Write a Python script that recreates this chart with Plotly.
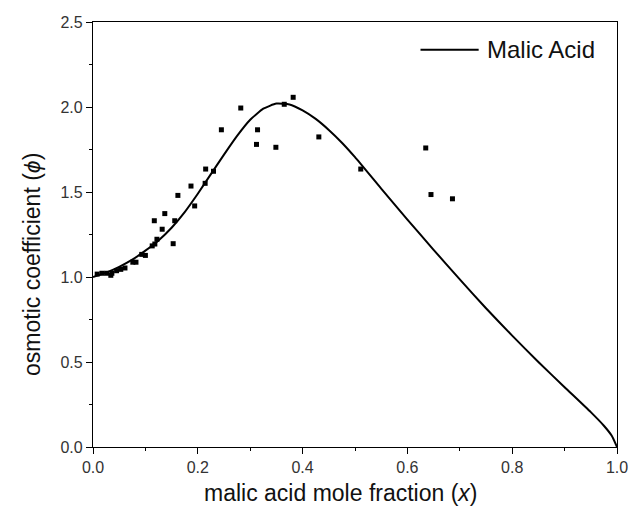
import plotly.graph_objects as go

# experimental points (mole fraction x, osmotic coefficient phi)
exp_x = [0.008, 0.017, 0.026, 0.034, 0.036, 0.045, 0.053, 0.061, 0.076, 0.082,
         0.093, 0.100, 0.113, 0.118, 0.122, 0.117, 0.132, 0.137, 0.153, 0.156,
         0.162, 0.187, 0.194, 0.214, 0.215, 0.230, 0.245, 0.282, 0.312, 0.314,
         0.349, 0.365, 0.382, 0.431, 0.511, 0.635, 0.645, 0.686]
exp_y = [1.017, 1.022, 1.022, 1.010, 1.022, 1.037, 1.045, 1.053, 1.087, 1.087,
         1.133, 1.127, 1.183, 1.194, 1.222, 1.331, 1.281, 1.373, 1.196, 1.331,
         1.480, 1.535, 1.418, 1.551, 1.635, 1.622, 1.866, 1.994, 1.780, 1.866,
         1.763, 2.016, 2.057, 1.824, 1.635, 1.759, 1.485, 1.460]

# model curve
fit_x = [0.0, 0.025, 0.05, 0.075, 0.10, 0.125, 0.15, 0.175, 0.20, 0.225,
         0.25, 0.275, 0.30, 0.325, 0.35, 0.375, 0.40, 0.425, 0.45, 0.475,
         0.50, 0.55, 0.60, 0.65, 0.70, 0.75, 0.80, 0.85, 0.90, 0.95, 0.975,
         0.99, 1.0]
fit_y = [1.000, 1.026, 1.060, 1.102, 1.155, 1.215, 1.290, 1.382, 1.490, 1.605,
         1.720, 1.830, 1.925, 1.990, 2.020, 2.015, 1.980, 1.930, 1.865, 1.790,
         1.705, 1.520, 1.338, 1.160, 0.986, 0.816, 0.655, 0.500, 0.352, 0.205,
         0.125, 0.066, 0.0]

legend_label = "Malic Acid"
x_title = "malic acid mole fraction (<i>x</i>)"
y_title = "osmotic coefficient (<i>ϕ</i>)"

fig = go.Figure()
fig.add_trace(go.Scatter(x=exp_x, y=exp_y, mode="markers",
                         marker=dict(symbol="square", size=5, color="black"),
                         showlegend=False))
fig.add_trace(go.Scatter(x=fit_x, y=fit_y, mode="lines", name=legend_label,
                         line=dict(color="black", width=2, shape="spline", smoothing=0.5),
                         showlegend=False))

axis_common = dict(showline=True, linecolor="black", linewidth=1.2, mirror=True,
                   ticks="outside", ticklen=6, tickcolor="black", showgrid=False,
                   zeroline=False, automargin=False,
                   tickfont=dict(size=16, color="#333"))
fig.update_xaxes(range=[0, 1], dtick=0.2, tickformat=".1f",
                 minor=dict(dtick=0.1, ticks="outside", ticklen=3, tickcolor="black"),
                 **axis_common)
fig.update_yaxes(range=[0, 2.5], dtick=0.5, tickformat=".1f",
                 minor=dict(dtick=0.25, ticks="outside", ticklen=3, tickcolor="black"),
                 **axis_common)

# axis titles
fig.add_annotation(text=x_title, xref="paper", yref="paper", x=0.473, y=-0.108,
                   xanchor="center", yanchor="middle", showarrow=False,
                   font=dict(size=23, color="#111"))
fig.add_annotation(text=y_title, xref="paper", yref="paper", x=-0.115, y=0.43,
                   xanchor="center", yanchor="middle", textangle=-90, showarrow=False,
                   font=dict(size=23, color="#111"))
# legend
fig.add_shape(type="line", xref="paper", yref="paper", x0=0.625, x1=0.736,
              y0=0.935, y1=0.935, line=dict(color="black", width=2))
fig.add_annotation(text=legend_label, xref="paper", yref="paper", x=0.749, y=0.935,
                   xanchor="left", yanchor="middle", showarrow=False,
                   font=dict(size=24, color="#111"))

fig.update_layout(width=630, height=516, plot_bgcolor="white", paper_bgcolor="white",
                  margin=dict(l=93, r=13, t=22, b=69, autoexpand=False),
                  font=dict(family="Liberation Sans, Arial, sans-serif"),
                  showlegend=False)
fig.write_html("out.html")
